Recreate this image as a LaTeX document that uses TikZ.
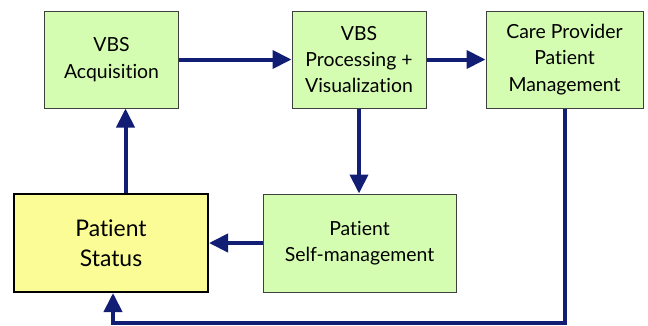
\documentclass[tikz,border=0pt]{standalone}
\usepackage{fontspec}
\setmainfont[Ligatures={NoCommon,NoDiscretionary}]{Lato}
\usetikzlibrary{arrows.meta,calc}

\definecolor{stagegreen}{RGB}{213,253,178}
\definecolor{statusyellow}{RGB}{252,252,150}
\definecolor{flownavy}{RGB}{18,30,115}

\begin{document}
\begin{tikzpicture}[x=1bp, y=-1bp, line join=miter,
  stage/.style={draw=black!75, line width=1bp, fill=stagegreen, align=center,
                inner sep=0pt, font=\fontsize{19.5}{26.5}\selectfont},
  status/.style={draw=black, line width=2bp, fill=statusyellow, align=center,
                 inner sep=0pt, font=\fontsize{23}{30}\selectfont},
  flow/.style={draw=flownavy, line width=4bp, -{Triangle[length=19bp,width=18bp]}}]

\useasboundingbox (0,0) rectangle (648,325);

% --- Top row: acquisition, processing, care provider ---
\node[stage, minimum width=133bp, minimum height=97bp] (acq)  at (111.5,59.5) {VBS\\Acquisition};
\node[stage, minimum width=134bp, minimum height=97bp] (proc) at (359,59.5)   {VBS\\Processing +\\Visualization};
\node[stage, minimum width=157bp, minimum height=97bp] (care) at (564.5,59.5) {Care Provider\\Patient\\Management};

% --- Bottom row: patient status and self-management ---
\node[status, minimum width=194bp, minimum height=98bp] (status) at (111,243)  {Patient\\Status};
\node[stage,  minimum width=193bp, minimum height=98bp] (self)   at (359.5,243) {Patient\\Self-management};

% --- Flow along the top ---
\draw[flow] (acq.east) -- (proc.west);
\draw[flow] (proc.east) -- (care.west);

% --- Down to self-management, back to status ---
\draw[flow] (proc.south) -- (proc.south |- self.north);
\draw[flow] (self.west) -- (status.east);

% --- Status feeds acquisition (line sits right of centre) ---
\draw[flow] ([xshift=14.5bp]status.north) -- ([xshift=14.5bp]status.north |- acq.south);

% --- Care provider loop back under everything ---
\draw[flow] (care.south) -- ++(0,214) -| ([xshift=2bp]status.south);

\end{tikzpicture}
\end{document}
